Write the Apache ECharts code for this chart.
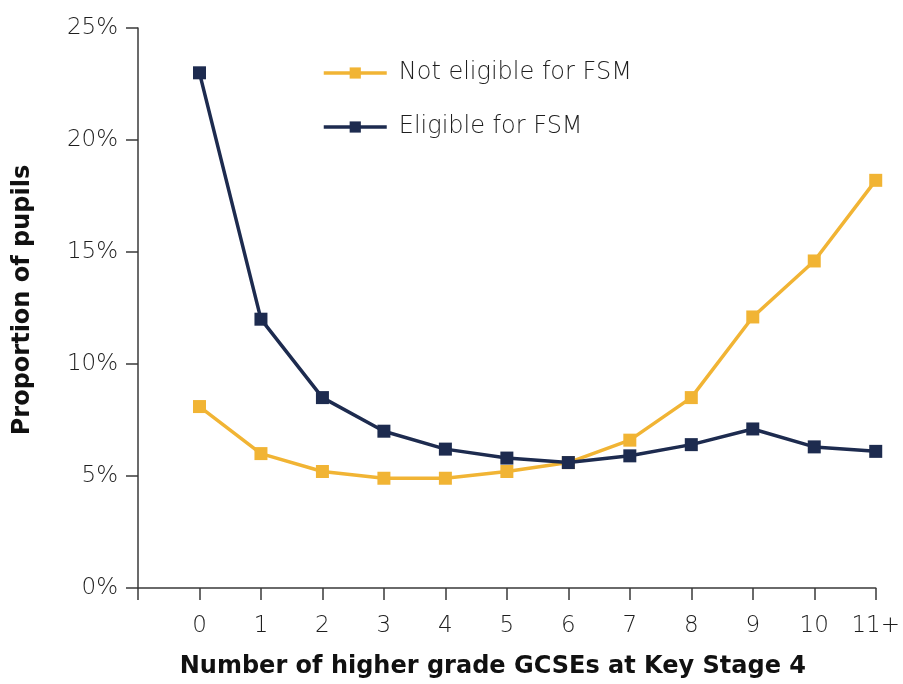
<!DOCTYPE html>
<html>
<head>
<meta charset="utf-8">
<script src="https://cdn.jsdelivr.net/npm/echarts@6/dist/echarts.min.js"></script>
<style>
  html, body { margin: 0; padding: 0; background: #fff; }
  #chart { width: 903px; height: 684px; }
</style>
</head>
<body>
<div id="chart"></div>
<script>
// Number of higher grade GCSEs achieved at Key Stage 4
const categories = ['0', '1', '2', '3', '4', '5', '6', '7', '8', '9', '10', '11+'];
// Proportion of pupils (%) in each group
const notEligible = [8.1, 6.0, 5.2, 4.9, 4.9, 5.2, 5.6, 6.6, 8.5, 12.1, 14.6, 18.2];
const eligible = [23.0, 12.0, 8.5, 7.0, 6.2, 5.8, 5.6, 5.9, 6.4, 7.1, 6.3, 6.1];
const yTicks = [0, 5, 10, 15, 20, 25];

const YELLOW = '#F1B434';
const NAVY = '#1D2B4F';
const AXIS = '#3a3a3a';
const LIGHT_FONT = '"DejaVu Sans", sans-serif';
const BOLD_FONT = '"DejaVu Sans", sans-serif';

const toPairs = arr => arr.map((v, i) => [i, v]);

const chart = echarts.init(document.getElementById('chart'), null, { renderer: 'canvas' });
chart.setOption({
  animation: false,
  grid: { left: 138, right: 24, top: 28, bottom: 96, containLabel: false },
  legend: {
    orient: 'vertical',
    left: 322,
    top: 61,
    padding: 0,
    itemWidth: 63,
    itemHeight: 14,
    itemGap: 30,
    lineStyle: { width: 3.5 },
    textStyle: { fontFamily: LIGHT_FONT, fontSize: 24, fontWeight: 200, color: '#1e1e1e', padding: [0, 0, 0, 7] },
    data: ['Not eligible for FSM', 'Eligible for FSM']
  },
  xAxis: {
    type: 'value',
    min: -1,
    max: categories.length - 1,
    interval: 1,
    name: 'Number of higher grade GCSEs at Key Stage 4',
    nameLocation: 'middle',
    nameGap: 67,
    nameTextStyle: { fontFamily: BOLD_FONT, fontSize: 24, fontWeight: 'bold', color: '#111', padding: [0, 28, 0, 0] },
    splitLine: { show: false },
    axisLine: { show: true, onZero: false, lineStyle: { color: AXIS, width: 1.5 } },
    axisTick: { show: true, length: 12, lineStyle: { color: AXIS, width: 1.5 } },
    axisLabel: {
      margin: 27,
      fontFamily: LIGHT_FONT, fontSize: 23, fontWeight: 200, color: '#1e1e1e',
      showMinLabel: true, showMaxLabel: true,
      formatter: v => (v >= 0 && v < categories.length ? categories[v] : '')
    }
  },
  yAxis: {
    type: 'value',
    min: yTicks[0],
    max: yTicks[yTicks.length - 1],
    interval: 5,
    name: 'Proportion of pupils',
    nameLocation: 'middle',
    nameGap: 103,
    nameRotate: 90,
    nameTextStyle: { fontFamily: BOLD_FONT, fontSize: 24, fontWeight: 'bold', color: '#111', padding: [0, 0, 0, 16] },
    splitLine: { show: false },
    axisLine: { show: true, onZero: false, lineStyle: { color: AXIS, width: 1.5 } },
    axisTick: { show: true, length: 12, lineStyle: { color: AXIS, width: 1.5 } },
    axisLabel: {
      margin: 20,
      fontFamily: LIGHT_FONT, fontSize: 23, fontWeight: 200, color: '#1e1e1e',
      formatter: '{value}%'
    }
  },
  series: [
    {
      name: 'Not eligible for FSM',
      type: 'line',
      data: toPairs(notEligible),
      symbol: 'rect',
      symbolSize: 13,
      lineStyle: { color: YELLOW, width: 3.5 },
      itemStyle: { color: YELLOW },
      z: 2
    },
    {
      name: 'Eligible for FSM',
      type: 'line',
      data: toPairs(eligible),
      symbol: 'rect',
      symbolSize: 13,
      lineStyle: { color: NAVY, width: 3.5 },
      itemStyle: { color: NAVY },
      z: 3
    }
  ]
});
</script>
</body>
</html>
